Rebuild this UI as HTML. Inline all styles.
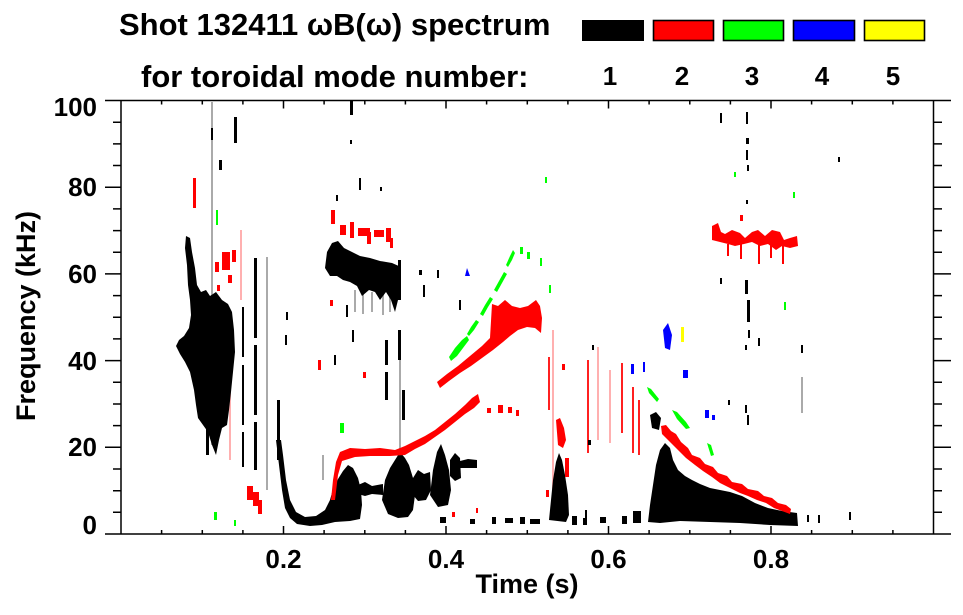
<!DOCTYPE html>
<html>
<head>
<meta charset="utf-8">
<style>
html,body{margin:0;padding:0;background:#fff;}
svg{display:block;}
text{font-family:"Liberation Sans",Arial,sans-serif;font-weight:bold;fill:#000;}
</style>
</head>
<body>
<svg width="963" height="615" viewBox="0 0 963 615" xmlns="http://www.w3.org/2000/svg">
<rect x="0" y="0" width="963" height="615" fill="#fff"/>

<!-- Title -->
<text x="119" y="35" font-size="31">Shot 132411 ωB(ω) spectrum</text>
<text x="141" y="87" font-size="31">for toroidal mode number:</text>

<!-- Legend -->
<rect x="582" y="20" width="62" height="21" fill="#000"/>
<rect x="653.5" y="20.5" width="60" height="20" fill="#ff0000" stroke="#000" stroke-width="1.6"/>
<rect x="723.5" y="20.5" width="60" height="20" fill="#00ff00" stroke="#000" stroke-width="1.6"/>
<rect x="793.5" y="20.5" width="61" height="20" fill="#0000ff" stroke="#000" stroke-width="1.6"/>
<rect x="864.5" y="20.5" width="60" height="20" fill="#ffff00" stroke="#000" stroke-width="1.6"/>
<g font-size="26" text-anchor="middle">
<text x="610" y="85">1</text>
<text x="682" y="85">2</text>
<text x="752" y="85">3</text>
<text x="822" y="85">4</text>
<text x="893" y="85">5</text>
</g>

<!-- ===== Spectrogram data ===== -->
<g>
<!-- pale/gray streaks -->
<g stroke="#aaa" stroke-width="2" fill="none">
<path d="M212,102 V445"/>
<path d="M267,257 V490"/>
<path d="M400,262 V300 M400,330 V470"/>
<path d="M355,290 V312 M363,292 V314 M372,292 V312 M383,290 V315 M390,296 V312"/>
<path d="M802,377 V413"/>
<path d="M323,455 V480"/>
</g>
<g stroke="#ffb0b0" stroke-width="2" fill="none">
<path d="M553,330 V520"/>
<path d="M598,347 V440"/>
<path d="M610,370 V443"/>
<path d="M241,230 V300"/>
<path d="M230,330 V460"/>
</g>
<g stroke="#ff2020" stroke-width="2" fill="none">
<path d="M588,360 V453"/>
<path d="M622,363 V433"/>
<path d="M633,387 V453"/>
<path d="M639,400 V455"/>
<path d="M549,357 V410"/>
</g>

<!-- Black features -->
<g fill="#000">
<!-- left cluster -->
<path d="M186,236 L190,238 L192,252 L195,268 L197,285 L201,292 L206,290 L210,296 L216,292 L222,300 L228,304 L232,312 L234,330 L235,352 L233,372 L231,392 L229,410 L227,425 L222,428 L219,440 L216,455 L212,445 L208,432 L203,425 L198,418 L196,405 L194,390 L190,372 L185,362 L180,354 L176,346 L179,340 L184,336 L189,328 L191,315 L190,300 L188,285 L187,265 L185,248 Z"/>
<!-- U curve + blob -->
<path d="M276,440 L279,465 L282,490 L285,508 L290,518 L297,524 L310,526 L322,525 L335,522 L350,521 L360,519 L362,505 L361,490 L358,478 L353,468 L348,465 L343,471 L338,479 L333,489 L330,500 L325,510 L316,516 L305,517 L296,512 L290,500 L286,480 L283,455 L281,440 Z"/>
<path d="M358,485 L365,482 L372,486 L383,484 L383,495 L372,494 L365,496 L358,494 Z"/>
<path d="M382,500 L385,480 L390,468 L395,460 L400,452 L405,458 L409,465 L413,478 L415,495 L413,510 L408,517 L398,518 L388,514 Z"/>
<path d="M413,478 L418,470 L424,474 L430,472 L431,490 L426,500 L418,501 L413,495 Z"/>
<path d="M430,495 L433,470 L437,452 L441,444 L445,455 L449,470 L451,490 L448,505 L438,507 Z"/>
<path d="M450,460 L455,453 L460,458 L461,478 L455,481 L450,476 Z"/>
<path d="M460,461 L468,459 L477,460 L477,468 L468,468 L460,468 Z"/>
<!-- 60 kHz band -->
<path d="M325,268 L327,252 L332,243 L338,241 L344,248 L352,252 L360,256 L370,258 L380,261 L392,263 L401,267 L401,285 L398,300 L395,312 L391,300 L386,292 L380,300 L375,292 L369,290 L362,296 L357,286 L350,282 L343,280 L337,276 L330,276 Z"/>
<!-- 0.54 s blob -->
<path d="M549,520 L551,500 L553,480 L556,462 L559,453 L562,460 L565,475 L568,495 L569,515 L566,522 Z"/>
<!-- right cluster -->
<path d="M648,522 L650,505 L653,485 L656,465 L660,450 L665,443 L670,448 L673,460 L678,470 L685,476 L692,480 L700,484 L710,488 L720,490 L730,492 L742,496 L755,503 L768,508 L782,511 L797,513 L798,526 L770,525 L740,523 L710,522 L680,521 L660,523 Z"/>
<path d="M650,415 L656,412 L661,418 L659,430 L652,428 Z"/>
<!-- small bottom bits -->
<rect x="440" y="517" width="6" height="6"/>
<rect x="470" y="519" width="5" height="5"/>
<rect x="492" y="517" width="4" height="7"/>
<rect x="505" y="518" width="8" height="5"/>
<rect x="520" y="517" width="5" height="7"/>
<rect x="530" y="519" width="10" height="5"/>
<rect x="572" y="516" width="5" height="9"/>
<rect x="583" y="518" width="4" height="7"/>
<rect x="600" y="517" width="6" height="6"/>
<rect x="622" y="516" width="5" height="8"/>
<rect x="633" y="511" width="8" height="12"/>
<rect x="588" y="440" width="3" height="5"/>
<!-- vertical black streaks left (broken) -->
<rect x="206" y="420" width="3" height="35"/>
<rect x="242" y="307" width="2" height="50"/>
<rect x="242" y="365" width="2" height="60"/>
<rect x="242" y="432" width="2" height="35"/>
<rect x="254" y="258" width="3" height="80"/>
<rect x="254" y="345" width="3" height="70"/>
<rect x="254" y="422" width="3" height="48"/>
<rect x="277" y="400" width="3" height="60"/>
<rect x="219" y="160" width="3" height="10"/>
<rect x="234" y="117" width="3" height="26"/>
<rect x="211" y="128" width="2" height="12"/>
<rect x="350" y="100" width="3" height="15"/>
<rect x="350" y="140" width="2" height="4"/>
<rect x="359" y="178" width="2" height="12"/>
<rect x="380" y="187" width="2" height="4"/>
<rect x="398" y="260" width="3" height="40"/>
<rect x="398" y="330" width="3" height="30"/>
<rect x="286" y="312" width="2" height="8"/>
<rect x="285" y="335" width="2" height="10"/>
<rect x="336" y="195" width="2" height="6"/>
<rect x="346" y="305" width="2" height="12"/>
<rect x="352" y="330" width="2" height="12"/>
<rect x="334" y="355" width="2" height="10"/>
<rect x="419" y="270" width="3" height="5"/>
<rect x="437" y="270" width="2" height="8"/>
<rect x="423" y="285" width="2" height="12"/>
<rect x="459" y="300" width="2" height="10"/>
<rect x="385" y="340" width="3" height="25"/>
<rect x="385" y="372" width="3" height="28"/>
<rect x="402" y="390" width="3" height="30"/>
<!-- dotted vertical line ~0.77 s -->
<rect x="746" y="112" width="2" height="12"/>
<rect x="746" y="138" width="3" height="6"/>
<rect x="746" y="150" width="2" height="10"/>
<rect x="747" y="165" width="2" height="6"/>
<rect x="746" y="200" width="2" height="4"/>
<rect x="745" y="280" width="3" height="14"/>
<rect x="747" y="300" width="3" height="22"/>
<rect x="748" y="330" width="2" height="8"/>
<rect x="745" y="345" width="2" height="5"/>
<rect x="745" y="405" width="2" height="8"/>
<rect x="747" y="415" width="2" height="10"/>
<rect x="720" y="113" width="2" height="10"/>
<rect x="720" y="278" width="2" height="6"/>
<rect x="838" y="157" width="2" height="5"/>
<rect x="728" y="400" width="2" height="5"/>
<rect x="758" y="338" width="2" height="8"/>
<rect x="801" y="345" width="2" height="8"/>
<rect x="592" y="345" width="2" height="5"/>
<rect x="585" y="510" width="2" height="10"/>
<rect x="807" y="515" width="2" height="7"/>
<rect x="818" y="515" width="2" height="8"/>
<rect x="849" y="512" width="2" height="8"/>
</g>

<!-- Red features -->
<g fill="#ff0000">
<!-- lower red curve -->
<path d="M331,500 L333,480 L336,462 L340,452 L350,448 L365,449 L380,448 L395,450 L405,446 L415,441 L425,436 L435,430 L445,422 L455,414 L465,405 L472,398 L478,394 L480,402 L474,408 L465,414 L455,422 L445,430 L435,437 L425,444 L415,449 L405,455 L390,456 L370,456 L355,457 L342,461 L338,475 L335,500 Z"/>
<!-- upper red curve -->
<path d="M437,382 L447,374 L458,366 L470,356 L482,346 L490,338 L492,304 L498,306 L505,300 L512,306 L520,308 L528,306 L536,300 L540,306 L542,318 L541,333 L535,328 L527,327 L518,330 L510,336 L503,342 L493,350 L482,358 L471,366 L460,373 L449,381 L440,388 Z"/>
<!-- ~28 kHz sparse -->
<rect x="487" y="408" width="4" height="5"/>
<rect x="498" y="405" width="5" height="8"/>
<rect x="508" y="407" width="4" height="6"/>
<rect x="516" y="410" width="3" height="6"/>
<!-- 70 kHz band -->
<rect x="331" y="210" width="4" height="14"/>
<rect x="340" y="225" width="6" height="10"/>
<rect x="350" y="222" width="4" height="16"/>
<rect x="358" y="228" width="12" height="8"/>
<rect x="367" y="232" width="4" height="12"/>
<rect x="374" y="230" width="10" height="7"/>
<rect x="386" y="228" width="5" height="14"/>
<rect x="390" y="238" width="3" height="10"/>
<!-- 0.54 s -->
<path d="M556,420 L560,418 L564,428 L566,440 L563,448 L558,445 Z"/>
<rect x="565" y="458" width="4" height="19"/>
<!-- right descending curve (thinner, jagged) -->
<path d="M661,426 L666,425 L671,431 L676,434 L681,442 L688,448 L692,455 L700,458 L705,464 L713,467 L718,473 L727,476 L732,482 L742,484 L748,489 L758,491 L764,496 L772,498 L778,503 L786,505 L791,509 L790,514 L782,511 L774,508 L766,503 L757,500 L748,496 L740,493 L730,488 L720,483 L712,477 L703,471 L695,465 L686,458 L678,450 L670,442 L662,434 Z"/>
<!-- ~69 kHz right -->
<path d="M712,226 L718,223 L721,232 L725,234 L732,230 L740,233 L745,238 L752,232 L758,230 L765,236 L772,230 L780,232 L784,240 L790,238 L797,236 L798,246 L790,248 L782,246 L776,250 L768,244 L760,246 L752,242 L744,244 L735,246 L728,244 L720,242 L712,240 Z"/>
<rect x="740" y="244" width="2" height="15"/>
<rect x="758" y="244" width="2" height="20"/>
<rect x="770" y="244" width="2" height="14"/>
<rect x="782" y="244" width="2" height="20"/>
<rect x="727" y="244" width="2" height="12"/>
<rect x="740" y="215" width="3" height="6"/>
<!-- left red bits -->
<rect x="193" y="178" width="3" height="30"/>
<rect x="215" y="262" width="4" height="10"/>
<rect x="222" y="252" width="8" height="18"/>
<rect x="232" y="250" width="4" height="12"/>
<rect x="228" y="275" width="4" height="8"/>
<rect x="217" y="285" width="3" height="6"/>
<rect x="247" y="486" width="6" height="14"/>
<rect x="253" y="492" width="6" height="14"/>
<rect x="258" y="500" width="4" height="14"/>
<rect x="318" y="360" width="3" height="10"/>
<rect x="330" y="300" width="3" height="6"/>
<rect x="363" y="372" width="3" height="6"/>
<rect x="452" y="512" width="3" height="5"/>
<rect x="476" y="508" width="2" height="5"/>
<rect x="546" y="490" width="3" height="7"/>
<rect x="562" y="364" width="3" height="6"/>
</g>

<!-- Green -->
<g fill="#00ff00">
<path d="M449,357 L455,348 L462,340 L467,336 L469,340 L463,348 L457,356 L451,361 Z"/>
<path d="M467,334 L471,327 L476,320 L479,322 L474,330 L469,336 Z"/>
<path d="M480,314 L485,305 L490,297 L493,299 L488,307 L483,316 Z"/>
<path d="M494,290 L499,281 L504,272 L507,274 L502,283 L497,292 Z"/>
<path d="M506,265 L510,256 L513,250 L515,253 L512,260 L508,267 Z"/>
<rect x="520" y="247" width="3" height="7"/>
<rect x="527" y="252" width="3" height="7"/>
<rect x="540" y="258" width="2" height="8"/>
<rect x="545" y="177" width="2" height="6"/>
<rect x="549" y="285" width="2" height="8"/>
<path d="M647,387 L651,389 L659,399 L657,402 L649,393 Z"/>
<path d="M672,410 L677,412 L686,422 L690,428 L686,429 L677,419 Z"/>
<path d="M707,443 L711,445 L714,455 L711,456 Z"/>
<rect x="340" y="423" width="4" height="10"/>
<rect x="214" y="512" width="3" height="8"/>
<rect x="234" y="520" width="2" height="6"/>
<rect x="784" y="302" width="2" height="8"/>
<rect x="734" y="172" width="2" height="5"/>
<rect x="793" y="192" width="2" height="6"/>
<rect x="216" y="210" width="2" height="15"/>
</g>

<!-- Blue -->
<g fill="#0000ff">
<path d="M465,276 L467,268 L470,276 Z"/>
<path d="M663,330 L668,323 L672,335 L670,350 L665,348 Z"/>
<rect x="683" y="370" width="5" height="8"/>
<rect x="705" y="410" width="4" height="8"/>
<rect x="712" y="415" width="3" height="5"/>
<rect x="631" y="364" width="3" height="10"/>
<rect x="643" y="362" width="2" height="10"/>
</g>
<rect x="681" y="327" width="3" height="15" fill="#ffff00"/>
</g>

<!-- ===== Axes ===== -->
<g stroke="#000" stroke-width="1.5" fill="none">
<path d="M105,100.5 H951 M105,534 H951 M121,100.5 V534 M933.5,100.5 V534"/>
<!-- left ticks -->
<path d="M105,447.3 H121 M105,360.6 H121 M105,273.9 H121 M105,187.2 H121"/>
<path d="M113,512.3 H121 M113,490.7 H121 M113,469 H121 M113,425.6 H121 M113,404 H121 M113,382.3 H121 M113,338.9 H121 M113,317.3 H121 M113,295.6 H121 M113,252.2 H121 M113,230.6 H121 M113,208.9 H121 M113,165.5 H121 M113,143.9 H121 M113,122.2 H121"/>
<!-- right ticks -->
<path d="M933.5,447.3 H951 M933.5,360.6 H951 M933.5,273.9 H951 M933.5,187.2 H951"/>
<path d="M933.5,512.3 H942 M933.5,490.7 H942 M933.5,469 H942 M933.5,425.6 H942 M933.5,404 H942 M933.5,382.3 H942 M933.5,338.9 H942 M933.5,317.3 H942 M933.5,295.6 H942 M933.5,252.2 H942 M933.5,230.6 H942 M933.5,208.9 H942 M933.5,165.5 H942 M933.5,143.9 H942 M933.5,122.2 H942"/>
<!-- bottom ticks -->
<path d="M283.5,534 V526 M446,534 V526 M608.5,534 V526 M771,534 V526"/>
<path d="M161.6,534 V530 M202.3,534 V530 M242.9,534 V530 M324.1,534 V530 M364.8,534 V530 M405.4,534 V530 M486.6,534 V530 M527.3,534 V530 M567.9,534 V530 M649.1,534 V530 M689.8,534 V530 M730.4,534 V530 M811.6,534 V530 M852.3,534 V530 M892.9,534 V530"/>
<!-- top ticks -->
<path d="M283.5,100.5 V108.5 M446,100.5 V108.5 M608.5,100.5 V108.5 M771,100.5 V108.5"/>
<path d="M161.6,100.5 V104.5 M202.3,100.5 V104.5 M242.9,100.5 V104.5 M324.1,100.5 V104.5 M364.8,100.5 V104.5 M405.4,100.5 V104.5 M486.6,100.5 V104.5 M527.3,100.5 V104.5 M567.9,100.5 V104.5 M649.1,100.5 V104.5 M689.8,100.5 V104.5 M730.4,100.5 V104.5 M811.6,100.5 V104.5 M852.3,100.5 V104.5 M892.9,100.5 V104.5"/>
</g>

<!-- Tick labels -->
<g font-size="26" text-anchor="end">
<text x="97" y="116">100</text>
<text x="97" y="196">80</text>
<text x="97" y="283">60</text>
<text x="97" y="370">40</text>
<text x="97" y="456">20</text>
<text x="97" y="534">0</text>
</g>
<g font-size="26" text-anchor="middle">
<text x="283.5" y="568">0.2</text>
<text x="446" y="568">0.4</text>
<text x="608.5" y="568">0.6</text>
<text x="771" y="568">0.8</text>
</g>
<text x="527" y="593" font-size="27" text-anchor="middle">Time (s)</text>
<text transform="translate(35,316) rotate(-90)" font-size="27" text-anchor="middle">Frequency (kHz)</text>
</svg>
</body>
</html>
